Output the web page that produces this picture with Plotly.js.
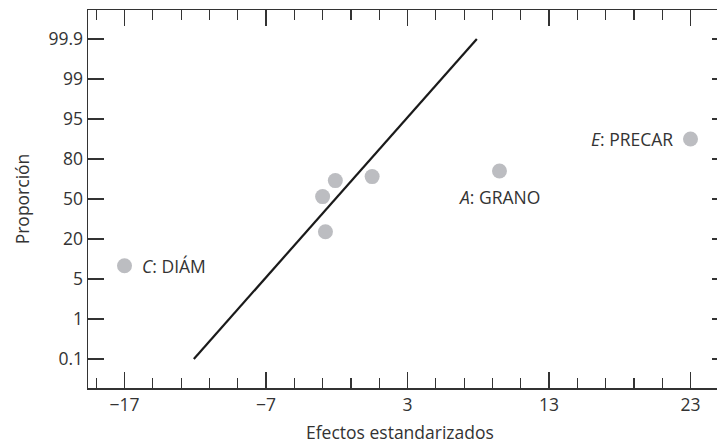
<!DOCTYPE html>
<html>
<head>
<meta charset="utf-8">
<script src="https://cdn.plot.ly/plotly-3.0.1.min.js"></script>
<style>
html,body{margin:0;padding:0;overflow:hidden;background:#fff;width:717px;height:443px;}
#chart{width:728px;height:443px;}
</style>
</head>
<body>
<div id="chart"></div>
<script>
// Standardized effects (x) and position on the probability scale (tick index)
const effects = [-17, -3.0, -2.8, -2.1, 0.5, 9.5, 23.0];
const probPos = [2.33, 4.06, 3.18, 4.46, 4.56, 4.70, 5.50];

// Reference line
const lineX = [-12.1, 7.9];
const lineY = [0, 8];

// Probability axis tick labels
const probTickLabels = ['0.1', '1', '5', '20', '50', '80', '95', '99', '99.9'];
const probTickPos = [0, 1, 2, 3, 4, 5, 6, 7, 8];

// Labelled effects
const labelX = [-17, 9.5, 23.0];
const labelY = [2.33, 4.70, 5.50];
const labelText = ['<i>C</i>: DIÁM', '<i>A</i>: GRANO', '<i>E</i>: PRECAR'];

const xTitle = 'Efectos estandarizados';
const yTitle = 'Proporción';

const font = 'Open Sans, Noto Sans, sans-serif';
const ink = '#333333';

const traces = [
  {
    x: lineX, y: lineY, mode: 'lines', type: 'scatter',
    line: {color: '#1a1a1a', width: 2.2}, hoverinfo: 'skip'
  },
  {
    x: effects, y: probPos, mode: 'markers', type: 'scatter',
    marker: {color: '#bcbdc1', size: 15, line: {width: 0}}
  }
];

const anchors = [
  {xanchor: 'left', yanchor: 'middle', xshift: 15, yshift: 0},
  {xanchor: 'center', yanchor: 'middle', xshift: 0, yshift: -26},
  {xanchor: 'right', yanchor: 'middle', xshift: -16, yshift: 0}
];

const annotations = labelX.map((x, i) => Object.assign({
  x: x, y: labelY[i], xref: 'x', yref: 'y', text: labelText[i],
  showarrow: false, font: {family: font, size: 17.5, color: ink}
}, anchors[i]));

annotations.push({
  x: 0.4875, y: -0.1164, xref: 'paper', yref: 'paper', text: xTitle,
  xanchor: 'center', yanchor: 'middle', showarrow: false,
  font: {family: font, size: 17.5, color: ink}
});

const layout = {
  width: 728, height: 443,
  margin: {l: 88, r: 0, t: 10, b: 55},
  paper_bgcolor: '#fff', plot_bgcolor: '#fff',
  showlegend: false,
  font: {family: font, size: 17.5, color: ink},
  xaxis: {
    range: [-19.58, 25.65],
    tickmode: 'linear', tick0: -17, dtick: 10,
    ticks: 'inside', ticklen: 16, tickwidth: 1.5, tickcolor: ink,
    minor: {tick0: -17, dtick: 2, ticks: 'inside', ticklen: 10, tickwidth: 1.2, tickcolor: ink},
    showline: true, linecolor: ink, linewidth: 1.5, mirror: 'ticks',
    showgrid: false, zeroline: false,
    tickfont: {family: font, size: 17.5, color: ink}
  },
  yaxis: {
    range: [-0.725, 8.725],
    tickmode: 'array', tickvals: probTickPos, ticktext: probTickLabels,
    ticks: 'inside', ticklen: 16, tickwidth: 1.5, tickcolor: ink,
    showline: true, linecolor: ink, linewidth: 1.5, mirror: 'ticks',
    showgrid: false, zeroline: false,
    tickfont: {family: font, size: 17.5, color: ink},
    title: {text: yTitle, font: {family: font, size: 17.5, color: ink}, standoff: 14}
  },
  annotations: annotations
};

Plotly.newPlot('chart', traces, layout, {displayModeBar: false, staticPlot: true});
</script>
</body>
</html>
